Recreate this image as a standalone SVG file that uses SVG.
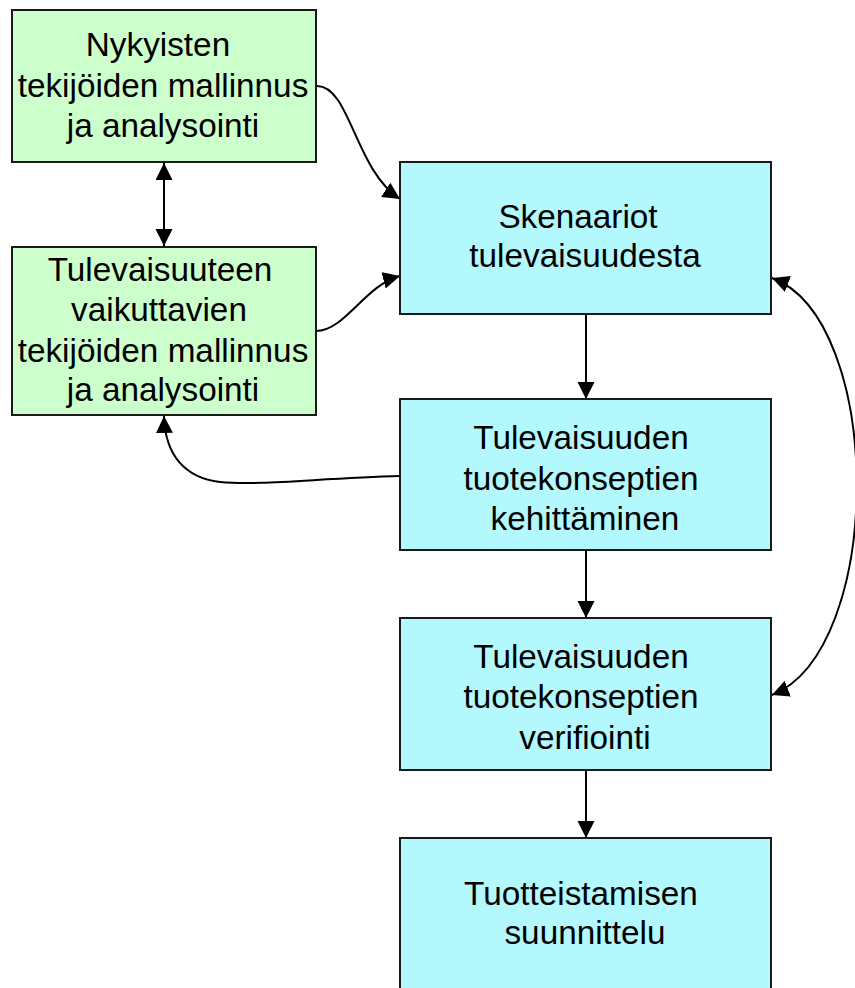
<svg xmlns="http://www.w3.org/2000/svg" width="855" height="988" viewBox="0 0 855 988">
<defs>
<style>
.g{fill:#ccffcc;stroke:#1a1a1a;stroke-width:2}
.b{fill:#b3f8fd;stroke:#1a1a1a;stroke-width:2}
text{font-family:"Liberation Sans",Arial,sans-serif;font-size:33.3px;fill:#000;text-anchor:middle}
.c{fill:none;stroke:#000;stroke-width:2}
</style>
<marker id="ah" markerWidth="18" markerHeight="18" refX="17" refY="8.5" orient="auto-start-reverse" markerUnits="userSpaceOnUse">
<path d="M0,0 L17,8.5 L0,17 Z" fill="#000"/>
</marker>
</defs>
<rect width="855" height="988" fill="#fff"/>
<g id="connectors">
<path class="c" d="M164,163 L164,246" marker-start="url(#ah)" marker-end="url(#ah)"/>
<path class="c" d="M317,86 C350,86 355,170 400,199" marker-end="url(#ah)"/>
<path class="c" d="M316,331 C345,331 365,285 400,276" marker-end="url(#ah)"/>
<path class="c" d="M400,476 C320,478 260,486 220,482 C185,478 165,455 164,416" marker-end="url(#ah)"/>
<path class="c" d="M586,315 L586,399" marker-end="url(#ah)"/>
<path class="c" d="M586,551 L586,618" marker-end="url(#ah)"/>
<path class="c" d="M586,771 L586,838" marker-end="url(#ah)"/>
<path class="c" d="M772,278 C885,320 885,650 772,695" marker-start="url(#ah)" marker-end="url(#ah)"/>
</g>
<g id="n1">
<rect class="g" x="12" y="10" width="304" height="152"/>
<text x="158" y="56">Nykyisten</text>
<text x="163" y="97">tekijöiden mallinnus</text>
<text x="163" y="137">ja analysointi</text>
</g>
<g id="n2">
<rect class="g" x="12" y="247" width="304" height="168"/>
<text x="160" y="281">Tulevaisuuteen</text>
<text x="159" y="321">vaikuttavien</text>
<text x="163" y="362">tekijöiden mallinnus</text>
<text x="163" y="401">ja analysointi</text>
</g>
<g id="n3">
<rect class="b" x="400" y="162" width="371" height="152"/>
<text x="578" y="228">Skenaariot</text>
<text x="585" y="267">tulevaisuudesta</text>
</g>
<g id="n4">
<rect class="b" x="400" y="399" width="371" height="151"/>
<text x="581" y="449">Tulevaisuuden</text>
<text x="581" y="490">tuotekonseptien</text>
<text x="585" y="530">kehittäminen</text>
</g>
<g id="n5">
<rect class="b" x="400" y="618" width="371" height="152"/>
<text x="581" y="668">Tulevaisuuden</text>
<text x="581" y="708">tuotekonseptien</text>
<text x="585" y="749">verifiointi</text>
</g>
<g id="n6">
<rect class="b" x="400" y="838" width="371" height="160"/>
<text x="581" y="905">Tuotteistamisen</text>
<text x="585" y="944">suunnittelu</text>
</g>
</svg>
